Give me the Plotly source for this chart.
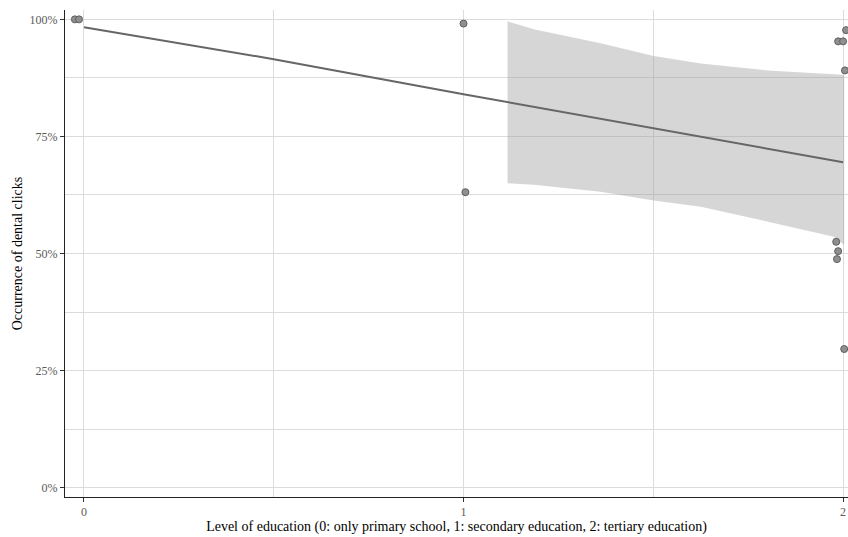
import plotly.graph_objects as go

# Observed proportions per speaker (jittered education level)
obs_x = [-0.024, -0.013, 1.000, 1.005, 2.008, 1.987, 2.000, 2.005, 1.982, 1.987, 1.984, 2.003]
obs_y = [1.000, 1.000, 0.991, 0.631, 0.977, 0.953, 0.953, 0.891, 0.525, 0.505, 0.488, 0.296]

# Fitted trend
fit_x = [0.0, 0.5, 1.0, 1.5, 2.0]
fit_y = [0.983, 0.915, 0.840, 0.768, 0.695]

# Confidence band
band_x = [1.116, 1.185, 1.361, 1.501, 1.625, 1.802, 1.976, 2.003]
band_hi = [0.996, 0.979, 0.949, 0.922, 0.906, 0.891, 0.883, 0.881]
band_lo = [0.650, 0.647, 0.632, 0.613, 0.600, 0.568, 0.536, 0.518]

x_ticks = [0, 1, 2]
y_ticks = [0, 0.25, 0.5, 0.75, 1.0]

fig = go.Figure()

fig.add_trace(go.Scatter(
    x=band_x + band_x[::-1], y=band_hi + band_lo[::-1],
    fill="toself", fillcolor="rgba(153,153,153,0.4)", line=dict(width=0),
    mode="lines", hoverinfo="skip", showlegend=False))

fig.add_trace(go.Scatter(
    x=fit_x, y=fit_y, mode="lines",
    line=dict(color="#666666", width=2), showlegend=False))

fig.add_trace(go.Scatter(
    x=obs_x, y=obs_y, mode="markers",
    marker=dict(size=7, color="#8f8f8f", line=dict(color="#5e5e5e", width=1)),
    showlegend=False))

grid = "#dcdcdc"
tick_font = dict(family="Liberation Serif", size=12, color="#5a5a5a")
title_font = dict(family="Liberation Serif", size=14, color="#000000")

fig.update_layout(
    width=848, height=537,
    margin=dict(l=65, r=0, t=10, b=40),
    paper_bgcolor="white", plot_bgcolor="white",
    xaxis=dict(
        range=[-0.05, 2.013], tickvals=x_ticks, ticktext=[str(v) for v in x_ticks],
        showgrid=True, gridcolor=grid, gridwidth=1,
        minor=dict(dtick=0.5, showgrid=True, gridcolor=grid, gridwidth=1, ticks=""),
        showline=True, linecolor="#222222", linewidth=1,
        ticks="outside", ticklen=4, tickcolor="#333333",
        tickfont=tick_font, zeroline=False,
        title=dict(text="Level of education (0: only primary school, 1: secondary education, 2: tertiary education)",
                   font=title_font, standoff=0)),
    yaxis=dict(
        range=[-0.02, 1.02], tickvals=y_ticks, tickformat=".0%",
        showgrid=True, gridcolor=grid, gridwidth=1,
        minor=dict(dtick=0.125, tick0=0, showgrid=True, gridcolor=grid, gridwidth=1, ticks=""),
        showline=True, linecolor="#222222", linewidth=1,
        ticks="outside", ticklen=4, tickcolor="#333333",
        tickfont=tick_font, zeroline=False,
        title=dict(text="Occurrence of dental clicks", font=title_font, standoff=3)),
)

fig.write_html("out.html")
